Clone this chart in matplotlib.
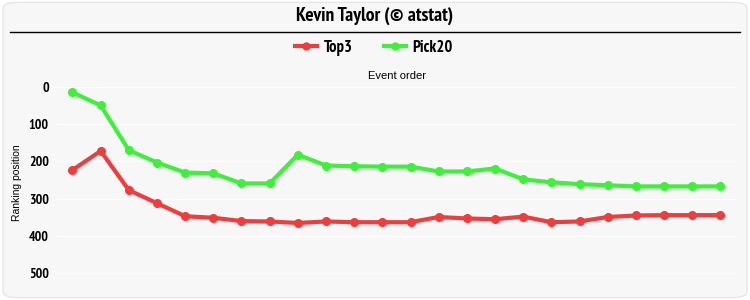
import matplotlib.pyplot as plt
from matplotlib.patches import FancyBboxPatch
from matplotlib.lines import Line2D

plt.rcParams['font.family'] = ['PT Sans Narrow', 'Liberation Sans', 'DejaVu Sans']

events = list(range(1, 25))
top3 = [223, 172, 277, 312, 347, 351, 360, 361, 365, 361, 363, 363,
        363, 349, 353, 355, 348, 363, 361, 349, 345, 344, 344, 344]
pick20 = [15, 50, 170, 203, 230, 232, 259, 259, 182, 211, 213, 214,
          214, 227, 227, 219, 248, 256, 261, 264, 267, 267, 267, 267]
yticks = [0, 100, 200, 300, 400, 500]

red = '#f23c3c'
green = '#3ef03a'

fig = plt.figure(figsize=(7.5, 3), dpi=100)
fig.patch.set_facecolor('white')
bg = FancyBboxPatch((0.004, 0.008), 0.992, 0.984, boxstyle='round,pad=0,rounding_size=0.02',
                    transform=fig.transFigure, facecolor='#f7f7f7', edgecolor='#e6e6e6',
                    linewidth=1, zorder=-10)
fig.patches.append(bg)

ax = fig.add_axes([0.076, 0.033, 0.907, 0.70])
ax.set_facecolor('#f7f7f7')
ax.plot(events, top3, color=red, lw=3, marker='o', ms=5.5, label='Top3')
ax.plot(events, pick20, color=green, lw=3, marker='o', ms=5.5, label='Pick20')

ax.set_xlim(0.45, 24.6)
ax.set_ylim(545, -18)
ax.set_yticks(yticks)
ax.set_yticklabels([str(v) for v in yticks], fontweight='bold', fontsize=10)
ax.set_xticks([])
ax.grid(axis='y', color='white', lw=1)
ax.set_axisbelow(True)
for s in ax.spines.values():
    s.set_visible(False)
ax.tick_params(axis='y', length=0, pad=6)
ax.set_ylabel('Ranking position', fontsize=7.5, family='Liberation Sans')
ax.yaxis.set_label_coords(-0.051, 0.51)
ax.xaxis.set_label_position('top')
ax.set_xlabel('Event order', fontsize=8, family='Liberation Sans', labelpad=1)

fig.text(0.5, 0.948, 'Kevin Taylor (© atstat)', ha='center', va='center',
         fontsize=14, fontweight='bold')
fig.add_artist(Line2D([0.013, 0.987], [0.893, 0.893], color='black', lw=1,
                      transform=fig.transFigure))

handles = [Line2D([], [], color=red, lw=3, marker='o', ms=5),
           Line2D([], [], color=green, lw=3, marker='o', ms=5)]
fig.legend(handles, ['Top3', 'Pick20'], loc='center', bbox_to_anchor=(0.499, 0.84),
           ncol=2, frameon=False, prop={'weight': 'bold', 'size': 12},
           handlelength=1.3, columnspacing=1.9, handletextpad=0.4)

fig.savefig('out.png', dpi=100)
